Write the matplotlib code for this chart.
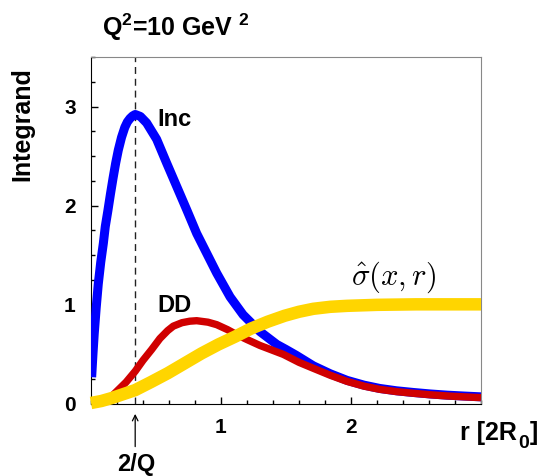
import matplotlib
matplotlib.use('Agg')
import matplotlib.pyplot as plt
from matplotlib.ticker import MultipleLocator

plt.rcParams['font.family'] = ['Liberation Sans', 'DejaVu Sans']
plt.rcParams['mathtext.fontset'] = 'custom'
plt.rcParams['mathtext.rm'] = 'Liberation Sans:bold'
plt.rcParams['mathtext.bf'] = 'Liberation Sans:bold'
plt.rcParams['mathtext.it'] = 'Liberation Sans:bold'

# Inclusive integrand (blue)
r_inc = [0.005, 0.015, 0.025, 0.04, 0.056, 0.075, 0.095, 0.11, 0.13, 0.15,
         0.17, 0.19, 0.21, 0.235, 0.26, 0.28, 0.30, 0.32, 0.34, 0.38, 0.428,
         0.505, 0.582, 0.659, 0.736, 0.813, 0.89, 0.967, 1.07, 1.17, 1.30,
         1.43, 1.50, 1.58, 1.71, 1.84, 1.97, 2.10, 2.22, 2.35, 2.48, 2.61,
         2.74, 2.87, 3.0]
y_inc = [0.27, 0.50, 0.71, 0.97, 1.21, 1.43, 1.62, 1.79, 1.95, 2.12,
         2.28, 2.43, 2.56, 2.69, 2.79, 2.845, 2.88, 2.905, 2.92, 2.90, 2.835,
         2.67, 2.43, 2.195, 1.96, 1.72, 1.52, 1.32, 1.08, 0.90, 0.73,
         0.60, 0.55, 0.49, 0.385, 0.305, 0.238, 0.19, 0.157, 0.133, 0.116, 0.101,
         0.089, 0.080, 0.072]

# Diffractive integrand (red)
r_dd = [0.08, 0.13, 0.20, 0.27, 0.34, 0.40, 0.467, 0.53, 0.59, 0.633, 0.70,
        0.76, 0.813, 0.90, 0.967, 1.05, 1.12, 1.20, 1.30, 1.40, 1.48, 1.60,
        1.71, 1.84, 1.97, 2.10, 2.22, 2.35, 2.48, 2.61, 2.74, 2.87, 3.0]
y_dd = [0.0, 0.04, 0.13, 0.22, 0.33, 0.44, 0.55, 0.66, 0.74, 0.785, 0.82,
        0.835, 0.84, 0.825, 0.80, 0.75, 0.70, 0.65, 0.59, 0.54, 0.50, 0.42,
        0.36, 0.29, 0.228, 0.18, 0.148, 0.125, 0.108, 0.093, 0.081, 0.072, 0.064]

# Dipole cross section (yellow)
r_sig = [0.0, 0.08, 0.16, 0.25, 0.34, 0.46, 0.59, 0.72, 0.85, 0.98, 1.11,
         1.23, 1.36, 1.49, 1.60, 1.71, 1.84, 1.97, 2.2, 2.5, 3.0]
y_sig = [0.01, 0.03, 0.06, 0.10, 0.14, 0.22, 0.31, 0.41, 0.51, 0.60, 0.68,
         0.76, 0.83, 0.89, 0.93, 0.96, 0.98, 0.99, 1.0, 1.005, 1.005]

r_2q = 0.34

fig = plt.figure(figsize=(5.40, 4.76), dpi=100)
ax = fig.add_axes([0.1685, 0.1513, 0.7222, 0.729])

ax.plot(r_inc, y_inc, color='#0000ff', lw=6.5, solid_capstyle='butt',
        solid_joinstyle='round', zorder=3)
ax.plot(r_dd, y_dd, color='#d00000', lw=5.3, solid_capstyle='butt',
        solid_joinstyle='round', zorder=4)
ax.plot(r_sig, y_sig, color='#ffd500', lw=9, solid_capstyle='butt',
        solid_joinstyle='round', zorder=5, clip_on=False)
ax.axvline(r_2q, color='#222222', lw=1, ls=(0, (5, 3.5)), zorder=2)

ax.set_xlim(0, 3)
ax.set_ylim(0, 3.5)
ax.set_xticks([1, 2])
ax.set_yticks([0, 1, 2, 3])
ax.xaxis.set_minor_locator(MultipleLocator(0.2))
ax.yaxis.set_minor_locator(MultipleLocator(0.25))
ax.tick_params(which='both', direction='in', top=False, right=False,
               labelsize=15, width=1)
ax.tick_params(which='major', length=5)
ax.tick_params(which='minor', length=3)
ax.tick_params(axis='x', pad=10)
ax.tick_params(axis='y', pad=11)
for lab in ax.get_xticklabels() + ax.get_yticklabels():
    lab.set_fontweight('bold')
for s in ['top', 'right']:
    ax.spines[s].set_color('#888888')
for s in ['left', 'bottom']:
    ax.spines[s].set_color('black')

ax.text(0.51, 2.87, 'Inc', fontsize=17, fontweight='bold', va='center', ha='left')
ax.text(0.51, 0.99, 'DD', fontsize=17, fontweight='bold', va='center', ha='left')
ax.text(2.33, 1.28, r'$\hat{\sigma}(x,r)$', fontsize=22, math_fontfamily='cm',
        ha='center', va='center')

# labels
fig.text(102 / 540, 1 - 36 / 476, r'Q$^{\bf 2}$=10 GeV $^{\bf 2}$', fontsize=18,
         fontweight='bold', ha='left', va='baseline')
fig.text(22 / 540, 1 - 67 / 476, 'Integrand', fontsize=18, fontweight='bold',
         rotation=90, ha='center', va='top')
fig.text(517 / 540, 1 - 440 / 476, 'r [2R', fontsize=18,
         fontweight='bold', ha='right', va='baseline')
fig.text(518 / 540, 1 - 448 / 476, '0', fontsize=14,
         fontweight='bold', ha='left', va='baseline')
fig.text(538 / 540, 1 - 440 / 476, ']', fontsize=18,
         fontweight='bold', ha='right', va='baseline')
fig.text(136 / 540, 1 - 465 / 476, '2/Q', fontsize=17, fontweight='bold',
         ha='center', va='center')
ax.annotate('', xy=(r_2q, -0.1), xytext=(r_2q, -0.43),
            xycoords='data', textcoords='data', annotation_clip=False,
            arrowprops=dict(arrowstyle='->', lw=0.9, color='black',
                            shrinkA=0, shrinkB=0))

fig.savefig('out.png', dpi=100)
